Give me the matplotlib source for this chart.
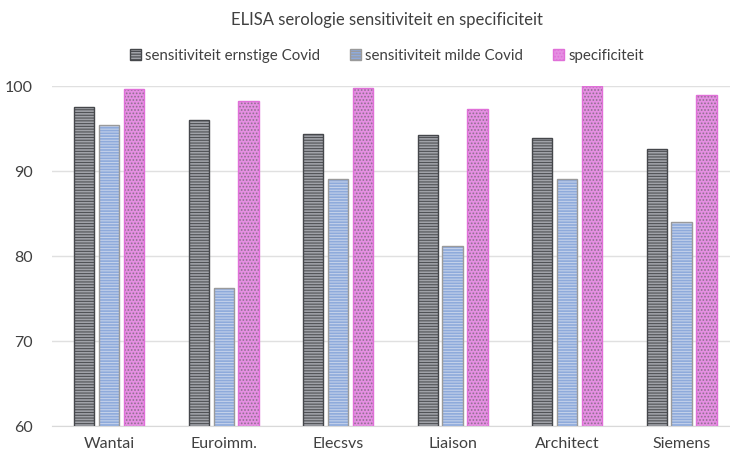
import matplotlib.pyplot as plt
import numpy as np

plt.rcParams['font.family'] = ['Lato', 'DejaVu Sans']
plt.rcParams['hatch.linewidth'] = 0.8

categories = ["Wantai", "Euroimm.", "Elecsvs", "Liaison", "Architect", "Siemens"]
ernstig = [97.5, 96.0, 94.4, 94.3, 93.9, 92.6]
mild = [95.4, 76.2, 89.1, 81.2, 89.1, 84.0]
specificiteit = [99.6, 98.3, 99.8, 97.3, 100.0, 98.9]

series = [
    ("sensitiviteit ernstige Covid", ernstig, '#a0a2a8', '#505256', '#45474b', '------'),
    ("sensitiviteit milde Covid", mild, '#8eaadb', '#c3d1ea', '#9a9a9a', '------'),
    ("specificiteit", specificiteit, '#e58fe2', '#8f6f8f', '#e070d8', '.....'),
]

fig = plt.figure(figsize=(7.3, 4.53), dpi=100)
ax = fig.add_axes([0.0712, 0.0596, 0.941, 0.7504])

x = np.arange(len(categories))
w = 0.178
step = 0.218
for i, (label, vals, face, hatchc, edge, hatch) in enumerate(series):
    pos = x + (i - 1) * step
    ax.bar(pos, vals, w, bottom=0, color=face, edgecolor=hatchc, hatch=hatch,
           linewidth=0, zorder=3)
    ax.bar(pos, vals, w, fill=False, edgecolor=edge, linewidth=1.0, zorder=4)
    # legend proxy
    ax.bar([0], [0], 0, color=face, edgecolor=edge, hatch=hatch, label=label)

ax.set_ylim(60, 100)
ax.set_xlim(-0.5, len(categories) - 0.5)
ax.set_yticks([60, 70, 80, 90, 100])
ax.set_xticks(x)
ax.set_xticklabels(categories)
ax.tick_params(axis='both', length=0, labelsize=11.5, colors='#404040', pad=8)
ax.tick_params(axis='y', pad=14)
ax.grid(axis='y', color='#e0e0e0', linewidth=1, zorder=0)
for s in ['top', 'right', 'left']:
    ax.spines[s].set_visible(False)
ax.spines['bottom'].set_color('#d9d9d9')

fig.text(0.53, 0.955, "ELISA serologie sensitiviteit en specificiteit",
         ha='center', va='center', fontsize=12, color='#404040')
handles, labels = ax.get_legend_handles_labels()
fig.legend(handles, labels, loc='center', bbox_to_anchor=(0.53, 0.877), ncol=3,
           frameon=False, fontsize=10.8, handlelength=0.7, handleheight=0.7,
           handletextpad=0.3, columnspacing=2.0, labelcolor='#404040')

fig.savefig("out.png", dpi=100)
